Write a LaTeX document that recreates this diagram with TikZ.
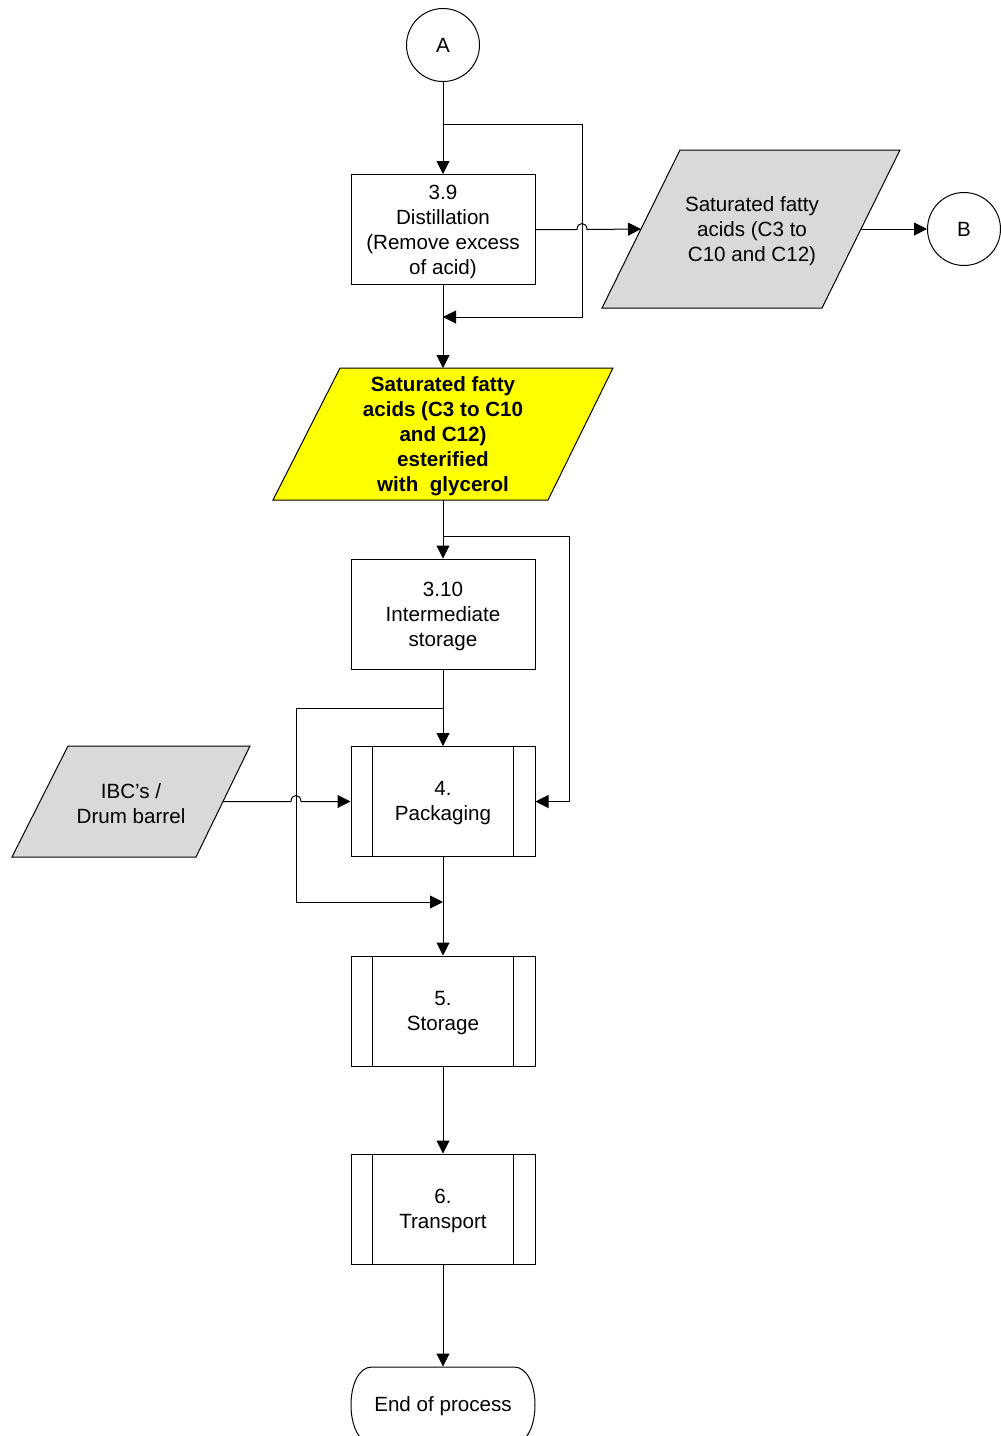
\documentclass[tikz,border=0pt]{standalone}
\usepackage{fontspec}
\setmainfont{Liberation Sans}
\usetikzlibrary{arrows.meta}
\definecolor{yel}{RGB}{255,255,0}
\definecolor{gry}{RGB}{217,217,217}
\newcommand\dfont{\fontsize{20.6}{25}\selectfont}
\begin{document}
\begin{tikzpicture}[x=1pt,y=-1pt,line width=1pt,
  arr/.style={-{Triangle[length=13pt,width=13pt]}},
  box/.style={draw, minimum width=184pt, minimum height=110pt, inner sep=0pt},
  lbl/.style={align=center, inner sep=0pt, font=\dfont},
  conn/.style={draw, circle, minimum size=73pt, inner sep=0pt, font=\dfont},
  grayfill/.style={draw, fill=gry},
]
\useasboundingbox (0,0) rectangle (1001,1436);
\clip (0,0) rectangle (1001,1436);

% connectors A and B
\node[conn] (A) at (443,45) {A};
\node[conn] (B) at (964,229) {B};

% process boxes
\node[box] (dist) at (443,229.5) {};
\node[box] (inter) at (443,614) {};
\node[box] (pack) at (443,801.5) {};
\node[box] (stor) at (443,1011) {};
\node[box] (trans) at (443,1209) {};
\node[lbl] (distt) at (443,231.5) {3.9\\Distillation\\(Remove excess\\of acid)};
\node[lbl] (intert) at (443,616) {3.10\\Intermediate\\storage};
\node[lbl] (packt) at (443,803.5) {4.\\Packaging};
\node[lbl] (stort) at (443,1013) {5.\\Storage};
\node[lbl] (transt) at (443,1211) {6.\\Transport};
\foreach \n in {pack,stor,trans}{
  \draw ([xshift=22pt]\n.north west) -- ([xshift=22pt]\n.south west);
  \draw ([xshift=-22pt]\n.north east) -- ([xshift=-22pt]\n.south east);
}

% gray output parallelogram
\draw[grayfill] (680,150) -- (900,150) -- (822,308) -- (602,308) -- cycle;
\node[lbl] (gpt) at (752,231) {Saturated fatty\\acids (C3 to\\C10 and C12)};
\coordinate (gpin) at (641,229);
\coordinate (gpout) at (861,229);

% yellow product parallelogram
\draw[fill=yel] (340,368) -- (613,368) -- (548,500) -- (273,500) -- cycle;
\node[lbl, font=\dfont\bfseries] (yt) at (443,436) {Saturated fatty\\acids (C3 to C10\\and C12)\\esterified\\with\ \ glycerol};
\coordinate (ytop) at (443,368);
\coordinate (ybot) at (443,500);

% IBC parallelogram
\draw[grayfill] (68,746) -- (250,746) -- (196,857) -- (12,857) -- cycle;
\node[lbl] (ibc) at (131,803.5) {IBC’s /\\Drum barrel};
\coordinate (ibcout) at (223,801.5);

% end of process terminal
\draw (372,1367) -- (514,1367) .. controls (542,1367) and (542,1443) .. (514,1443)
      -- (372,1443) .. controls (344,1443) and (344,1367) .. (372,1367) -- cycle;
\node[inner sep=0pt, minimum height=76pt, minimum width=184pt] (endp) at (443,1405) {};
\node[lbl] (endt) at (443,1406) {End of process};

% --- connectors ---
\draw[arr] (A.south) -- (dist.north);
\coordinate (a1) at (443,124); \coordinate (a2) at (582,124);
\coordinate (a3) at (582,317); \coordinate (a4) at (443,317);
\draw[arr] (a1) -- (a2) -- (a3) -- (a4);

\coordinate (h1a) at (577,229.5); \coordinate (h1b) at (587,229.5);
\draw[arr] (dist.east) -- (h1a) .. controls ([yshift=8pt]h1a) and ([yshift=8pt]h1b) .. (h1b) -- (gpin);
\draw[arr] (gpout) -- (B.west);

\draw[arr] (dist.south) -- (ytop);
\draw[arr] (ybot) -- (inter.north);
\coordinate (b1) at (443,536); \coordinate (b2) at (569,536); \coordinate (b3) at (569,801.5);
\draw[arr] (b1) -- (b2) -- (b3) -- (pack.east);

\draw[arr] (inter.south) -- (pack.north);
\coordinate (c1) at (443,708); \coordinate (c2) at (296,708);
\coordinate (c3) at (296,902); \coordinate (c4) at (443,902);
\draw[arr] (c1) -- (c2) -- (c3) -- (c4);

\coordinate (h2a) at (291,801.5); \coordinate (h2b) at (301,801.5);
\draw[arr] (ibcout) -- (h2a) .. controls ([yshift=8pt]h2a) and ([yshift=8pt]h2b) .. (h2b) -- (pack.west);

\draw[arr] (pack.south) -- (stor.north);
\draw[arr] (stor.south) -- (trans.north);
\draw[arr] (trans.south) -- (endp.north);
\end{tikzpicture}
\end{document}
